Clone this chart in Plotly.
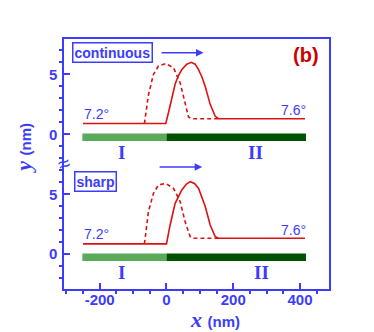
import plotly.graph_objects as go

BLUE = "#3c3cff"
RED = "#dd1111"
OFFSET = 10  # upper panel is drawn shifted up by this many nm on the shared y axis

# upper panel ("continuous")
cont_x = [-250, -2, 6, 16, 26, 36, 46, 61, 74, 86, 96, 106, 116, 131, 146, 156, 415]
cont_y = [0.9, 0.9, 1.8, 3.1, 4.2, 4.9, 5.4, 5.85, 6.0, 5.85, 5.4, 4.8, 4.0, 2.5, 1.5, 1.3, 1.3]
cont_dash_x = [-66, -60, -54, -39, -24, -2, 21, 41, 56, 66, 76, 156]
cont_dash_y = [0.9, 2.0, 3.3, 5.0, 5.7, 5.9, 5.55, 4.3, 2.5, 1.45, 1.3, 1.3]

# lower panel ("sharp")
sharp_x = [-250, 0, 11, 26, 46, 60, 71, 84, 96, 116, 131, 146, 156, 415]
sharp_y = [0.86, 0.86, 2.44, 4.25, 5.36, 5.85, 6.05, 5.9, 5.5, 4.0, 2.44, 1.47, 1.33, 1.33]
sharp_dash_x = [-66, -60, -54, -39, -24, -2, 21, 41, 56, 71, 78, 156]
sharp_dash_y = [0.86, 2.2, 3.55, 5.08, 5.78, 5.9, 5.5, 4.4, 2.7, 1.47, 1.33, 1.33]

# substrate regions
region_I = [-252, 0]
region_II = [0, 418]
bar_level = -0.25

fig = go.Figure()

for off in (OFFSET, 0):
    fig.add_trace(go.Scatter(x=region_I, y=[bar_level + off] * 2, mode="lines",
                             line=dict(color="#5aaa5a", width=7.5)))
    fig.add_trace(go.Scatter(x=region_II, y=[bar_level + off] * 2, mode="lines",
                             line=dict(color="#005200", width=7.5)))

fig.add_trace(go.Scatter(x=cont_dash_x, y=[v + OFFSET for v in cont_dash_y], mode="lines",
                         line=dict(color=RED, width=1.6, dash="4px,3px")))
fig.add_trace(go.Scatter(x=cont_x, y=[v + OFFSET for v in cont_y], mode="lines",
                         line=dict(color=RED, width=1.6)))
fig.add_trace(go.Scatter(x=sharp_dash_x, y=sharp_dash_y, mode="lines",
                         line=dict(color=RED, width=1.6, dash="4px,3px")))
fig.add_trace(go.Scatter(x=sharp_x, y=sharp_y, mode="lines",
                         line=dict(color=RED, width=1.6)))

sans = "Liberation Sans, Arial, sans-serif"
serif = "Liberation Serif, Times New Roman, serif"

ann = []
for off, ii_x in ((OFFSET, 267), (0, 286)):
    ann.append(dict(x=-209, y=1.67 + off, text="7.2°", showarrow=False,
                    font=dict(family=sans, size=14, color=BLUE)))
    ann.append(dict(x=382, y=2.05 + off, text="7.6°", showarrow=False,
                    font=dict(family=sans, size=14, color=BLUE)))
    ann.append(dict(x=-135, y=-1.55 + off, text="<b>I</b>", showarrow=False,
                    font=dict(family=serif, size=19, color=BLUE)))
    ann.append(dict(x=ii_x, y=-1.55 + off, text="<b>II</b>", showarrow=False,
                    font=dict(family=serif, size=19, color=BLUE)))

ann.append(dict(x=-163, y=OFFSET + 6.85, text="<b>continuous</b>", showarrow=False,
                font=dict(family=sans, size=14, color=BLUE),
                bordercolor=BLUE, borderwidth=1.5, borderpad=1))
ann.append(dict(x=-213, y=6.07, text="<b>sharp</b>", showarrow=False,
                font=dict(family=sans, size=14, color=BLUE),
                bordercolor=BLUE, borderwidth=1.5, borderpad=1))
# motion arrows
ann.append(dict(x=111, y=OFFSET + 6.8, ax=-19, ay=OFFSET + 6.8, axref="x", ayref="y",
                text="", showarrow=True, arrowhead=2, arrowsize=1, arrowwidth=1.5,
                arrowcolor=BLUE))
ann.append(dict(x=107, y=7.27, ax=-25, ay=7.27, axref="x", ayref="y",
                text="", showarrow=True, arrowhead=2, arrowsize=1, arrowwidth=1.5,
                arrowcolor=BLUE))
ann.append(dict(x=0.915, y=0.935, xref="paper", yref="paper", text="<b>(b)</b>",
                xanchor="center", yanchor="middle",
                showarrow=False, font=dict(family=sans, size=20, color="#cc0000")))
# axis break mark
ann.append(dict(x=0, xref="paper", y=7.6, text="≈", showarrow=False, textangle=-20,
                xanchor="center", yanchor="middle",
                font=dict(family=sans, size=21, color=BLUE)))
# axis titles
ann.append(dict(x=0.57, y=-0.12, xref="paper", yref="paper", showarrow=False,
                xanchor="center", yanchor="middle",
                text="<b><i>x</i></b> <b style='font-family:Liberation Sans;font-size:15px'>(nm)</b>",
                font=dict(family=serif, size=22, color=BLUE)))
ann.append(dict(x=-0.151, y=0.565, xref="paper", yref="paper", showarrow=False, textangle=-90,
                xanchor="center", yanchor="middle",
                text="<b><i>y</i></b> <b style='font-family:Liberation Sans;font-size:15px'>(nm)</b>",
                font=dict(family=serif, size=22, color=BLUE)))

y_minor = [-2, -1, 1, 2, 3, 4, 6, 7]
# the page body adds an 8px margin, so the figure is 8px smaller on each side
fig.update_layout(
    width=366, height=324,
    margin=dict(l=56, r=45, t=31, b=43),
    paper_bgcolor="white", plot_bgcolor="white",
    showlegend=False,
    annotations=ann,
    xaxis=dict(range=[-307, 487], showgrid=False, zeroline=False,
               showline=True, linecolor=BLUE, linewidth=1.5, mirror=True,
               ticks="inside", ticklen=6, tickwidth=1.5, tickcolor=BLUE,
               tickmode="array", tickvals=[-200, 0, 200, 400],
               ticktext=["-200", "0", "200", "400"], ticklabelstandoff=-4,
               tickfont=dict(family=sans, size=15, color=BLUE, weight="bold"),
               minor=dict(tickmode="array",
                          tickvals=[v for v in range(-300, 500, 50) if v % 200],
                          ticklen=3.5, tickwidth=1.5, tickcolor=BLUE)),
    yaxis=dict(range=[-2.9, 17.95], showgrid=False, zeroline=False,
               showline=True, linecolor=BLUE, linewidth=1.5, mirror=True,
               ticks="inside", ticklen=6, tickwidth=1.5, tickcolor=BLUE,
               tickmode="array", tickvals=[0, 5, OFFSET, OFFSET + 5],
               ticktext=["0", "5", "0", "5"], ticklabelstandoff=2,
               tickfont=dict(family=sans, size=15, color=BLUE, weight="bold"),
               minor=dict(tickmode="array",
                          tickvals=y_minor + [v + OFFSET for v in y_minor],
                          ticklen=3.5, tickwidth=1.5, tickcolor=BLUE)),
)

fig.write_html("out.html")
